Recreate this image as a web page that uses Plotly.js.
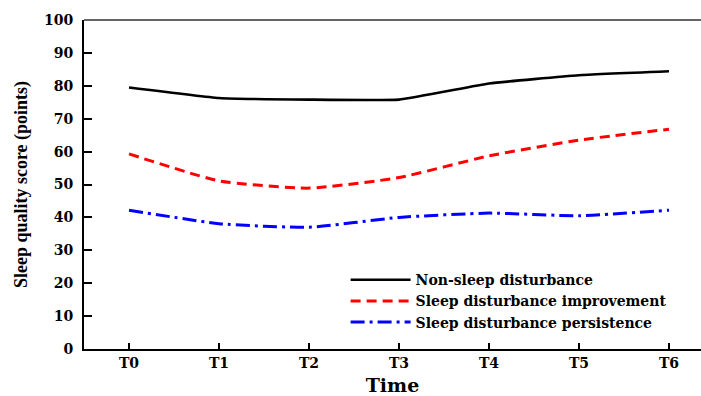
<!DOCTYPE html>
<html>
<head>
<meta charset="utf-8">
<script src="https://cdn.plot.ly/plotly-3.0.1.min.js"></script>
<style>
  html, body { margin: 0; padding: 0; background: #fff; }
  #chart { width: 701px; height: 396px; }
</style>
</head>
<body>
<div id="chart"></div>
<script>
const timePoints = ["T0", "T1", "T2", "T3", "T4", "T5", "T6"];
const nonSleepDisturbance = [79.5, 76.3, 75.8, 75.8, 80.7, 83.2, 84.4];
const sleepDisturbanceImprovement = [59.3, 51.1, 48.9, 52.1, 58.7, 63.5, 66.8];
const sleepDisturbancePersistence = [42.2, 38.1, 37.0, 40.0, 41.3, 40.5, 42.2];
const seriesNames = ["Non-sleep disturbance", "Sleep disturbance improvement", "Sleep disturbance persistence"];
const yTicks = [0, 10, 20, 30, 40, 50, 60, 70, 80, 90, 100];

const xIdx = timePoints.map((_, i) => i);
const wideSerif = "DejaVu Serif";
const serif = "Times New Roman";

const traces = [
  { x: xIdx, y: nonSleepDisturbance, name: seriesNames[0], mode: "lines",
    line: { color: "#000000", width: 2.6, shape: "spline", smoothing: 0.35 } },
  { x: xIdx, y: sleepDisturbanceImprovement, name: seriesNames[1], mode: "lines",
    line: { color: "#ff0000", width: 3, dash: "10px,6px", shape: "spline", smoothing: 0.5 } },
  { x: xIdx, y: sleepDisturbancePersistence, name: seriesNames[2], mode: "lines",
    line: { color: "#0000ff", width: 3, dash: "14px,5px,3px,5px", shape: "spline", smoothing: 0.5 } }
];

const layout = {
  width: 701, height: 396,
  margin: { l: 84, r: 0, t: 20, b: 47 },
  paper_bgcolor: "#ffffff", plot_bgcolor: "#ffffff",
  showlegend: true,
  legend: {
    x: 0.424, y: 0.258, xanchor: "left", yanchor: "top",
    bgcolor: "rgba(0,0,0,0)", borderwidth: 0,
    font: { family: wideSerif, size: 14, color: "#000", weight: "bold" },
    itemwidth: 60
  },
  xaxis: {
    range: [-0.5, 6.356],
    tickmode: "array", tickvals: xIdx, ticktext: timePoints,
    ticks: "inside", ticklen: 6, tickwidth: 2, tickcolor: "#000",
    showline: true, linecolor: "#000", linewidth: 2,
    showgrid: false, zeroline: false,
    tickfont: { family: wideSerif, size: 14, color: "#000", weight: "bold" },
    title: { text: "Time", font: { family: wideSerif, size: 19, color: "#000", weight: "bold" }, standoff: 11 }
  },
  yaxis: {
    range: [0, 100],
    tickmode: "array", tickvals: yTicks,
    ticks: "inside", ticklen: 8, tickwidth: 2, tickcolor: "#000",
    showline: true, linecolor: "#000", linewidth: 2,
    showgrid: false, zeroline: false,
    tickfont: { family: wideSerif, size: 14, color: "#000", weight: "bold" },
    ticklabelstandoff: 6,
    title: { text: "Sleep quality score (points)", font: { family: serif, size: 18, color: "#000", weight: "bold" }, standoff: 12 }
  },
  shapes: [
    { type: "line", xref: "paper", yref: "paper", x0: 0, x1: 1, y0: 1, y1: 1,
      line: { color: "#333", width: 1.5 } }
  ]
};

Plotly.newPlot("chart", traces, layout, { displayModeBar: false, staticPlot: true });
</script>
</body>
</html>
